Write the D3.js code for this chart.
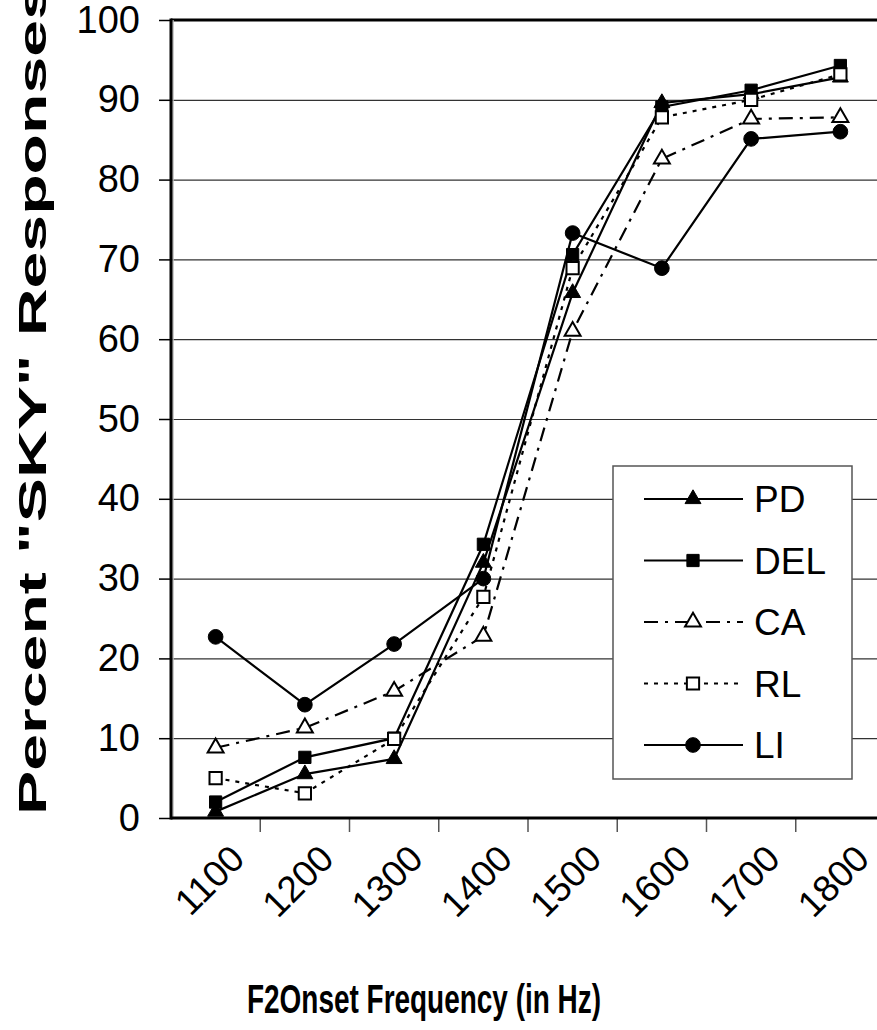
<!DOCTYPE html>
<html>
<head>
<meta charset="utf-8">
<script src="https://cdn.jsdelivr.net/npm/d3@7"></script>
<style>
  body { margin: 0; background: #fff; }
  svg { display: block; font-family: "Liberation Sans", Arial, sans-serif; }
</style>
</head>
<body>
<script>
// category labels on the x axis (Hz)
var freqs = ["1100", "1200", "1300", "1400", "1500", "1600", "1700", "1800"]
var yTicks = [0, 10, 20, 30, 40, 50, 60, 70, 80, 90, 100]

// percent "SKY" responses, per group
var pdVals  = [0.8, 5.5, 7.4, 32.0, 65.8, 89.6, 90.7, 92.8]
var delVals = [2.0, 7.6, 10.0, 34.3, 70.6, 89.1, 91.2, 94.3]
var caVals  = [8.8, 11.3, 15.9, 22.8, 61.0, 82.6, 87.6, 87.8]
var rlVals  = [5.0, 3.1, 9.9, 27.7, 68.9, 87.8, 90.0, 93.2]
var liVals  = [22.7, 14.2, 21.8, 30.0, 73.3, 68.9, 85.1, 86.0]

var seriesNames = ["PD", "DEL", "CA", "RL", "LI"]

// drawing style per series (symbol, filled or open, dash)
var styles = {
  PD:  { sym: d3.symbolTriangle, size: 110, fill: "#000", dash: null },
  DEL: { sym: d3.symbolSquare,   size: 150, fill: "#000", dash: null },
  CA:  { sym: d3.symbolTriangle, size: 110, fill: "#fff", dash: "14,7,3,7" },
  RL:  { sym: d3.symbolSquare,   size: 150, fill: "#fff", dash: "4,6" },
  LI:  { sym: d3.symbolCircle,   size: 170, fill: "#000", dash: null }
}

window.onload = function() {
  var width = 877
  var height = 1030

  var plot = { left: 171, right: 885, top: 20, bottom: 818 }

  var series = [pdVals, delVals, caVals, rlVals, liVals].map(function(vals, i) {
    return { name: seriesNames[i], values: vals }
  })

  var svg = d3.select("body").append("svg")
              .attr("width", width)
              .attr("height", height)

  var xScale = d3.scaleBand()
                 .domain(freqs)
                 .range([plot.left, plot.right])
                 .padding(0)
  var yScale = d3.scaleLinear()
                 .domain([0, 100])
                 .range([plot.bottom, plot.top])

  var cx = function(i) { return xScale(freqs[i]) + xScale.bandwidth() / 2 }

  // horizontal gridlines
  svg.append("g")
     .attr("transform", "translate(" + plot.left + ",0)")
     .call(d3.axisLeft(yScale).tickValues(yTicks.slice(1, -1))
             .tickSize(-(plot.right - plot.left)).tickFormat(""))
     .call(function(g) {
       g.select(".domain").remove()
       g.selectAll("line").attr("stroke", "#333").attr("stroke-width", 1.2)
     })

  // y axis ticks + labels
  svg.append("g")
     .attr("transform", "translate(" + plot.left + ",0)")
     .call(d3.axisLeft(yScale).tickValues(yTicks).tickSize(12).tickPadding(19).tickSizeOuter(0))
     .call(function(g) {
       g.select(".domain").remove()
       g.selectAll("line").attr("stroke", "#000").attr("stroke-width", 1.5)
       g.selectAll("text").attr("font-size", 38).attr("fill", "#000")
        .attr("font-family", "Liberation Sans, Arial, sans-serif")
     })

  // x axis tick marks at category boundaries
  svg.append("g").selectAll("line")
     .data(freqs.slice(1))
     .enter().append("line")
     .attr("x1", function(d) { return xScale(d) })
     .attr("x2", function(d) { return xScale(d) })
     .attr("y1", plot.bottom)
     .attr("y2", plot.bottom + 14)
     .attr("stroke", "#555")
     .attr("stroke-width", 1.5)

  // x axis labels, rotated
  svg.append("g")
     .attr("transform", "translate(0," + plot.bottom + ")")
     .call(d3.axisBottom(xScale).tickSize(0))
     .call(function(g) {
       g.select(".domain").remove()
       g.selectAll("text")
        .attr("font-size", 37)
        .attr("fill", "#000")
        .attr("font-family", "Liberation Sans, Arial, sans-serif")
        .attr("y", 0).attr("dy", 0)
        .attr("text-anchor", "end")
        .attr("transform", "translate(31,43) rotate(-45)")
     })

  // frame: top border, y axis, x axis
  svg.append("line").attr("x1", plot.left).attr("x2", width)
     .attr("y1", plot.top).attr("y2", plot.top)
     .attr("stroke", "#000").attr("stroke-width", 3)
  svg.append("line").attr("x1", plot.left + 2).attr("x2", plot.left + 2)
     .attr("y1", plot.top).attr("y2", plot.bottom)
     .attr("stroke", "#bbb").attr("stroke-width", 1.5)
  svg.append("line").attr("x1", plot.left).attr("x2", plot.left)
     .attr("y1", plot.top - 1.5).attr("y2", plot.bottom + 1.5)
     .attr("stroke", "#000").attr("stroke-width", 3)
  svg.append("line").attr("x1", plot.left).attr("x2", width)
     .attr("y1", plot.bottom).attr("y2", plot.bottom)
     .attr("stroke", "#000").attr("stroke-width", 3)

  var line = d3.line()
               .x(function(d, i) { return cx(i) })
               .y(function(d) { return yScale(d) })

  // lines and markers, in legend order (later on top)
  series.forEach(function(s) {
    var st = styles[s.name]
    var g = svg.append("g").attr("class", "series")
    g.append("path")
     .attr("d", line(s.values))
     .attr("fill", "none")
     .attr("stroke", "#000")
     .attr("stroke-width", 2.2)
     .attr("stroke-dasharray", st.dash)
    g.selectAll("path.mark")
     .data(s.values)
     .enter().append("path")
     .attr("class", "mark")
     .attr("d", d3.symbol().type(st.sym).size(st.size))
     .attr("transform", function(d, i) {
       return "translate(" + cx(i) + "," + yScale(d) + ")"
     })
     .attr("fill", st.fill)
     .attr("stroke", "#000")
     .attr("stroke-width", st.fill == "#fff" ? 2 : 1)
  })

  // legend
  var leg = { x: 613, y: 466, w: 239, h: 313, first: 499, step: 61.5 }
  svg.append("rect")
     .attr("x", leg.x).attr("y", leg.y)
     .attr("width", leg.w).attr("height", leg.h)
     .attr("fill", "#fff")
     .attr("stroke", "#555")
     .attr("stroke-width", 1.5)

  var items = svg.selectAll(".legend")
                 .data(seriesNames)
                 .enter().append("g")
                 .attr("class", "legend")
                 .attr("transform", function(d, i) {
                   return "translate(" + 693 + "," + (leg.first + i * leg.step) + ")"
                 })
  items.append("line")
       .attr("x1", -49).attr("x2", 50)
       .attr("stroke", "#000").attr("stroke-width", 2.2)
       .attr("stroke-dasharray", function(d) { return styles[d].dash })
  items.append("path")
       .attr("d", function(d) { return d3.symbol().type(styles[d].sym).size(styles[d].size)() })
       .attr("fill", function(d) { return styles[d].fill })
       .attr("stroke", "#000")
       .attr("stroke-width", function(d) { return styles[d].fill == "#fff" ? 2 : 1 })
  items.append("text")
       .attr("x", 61)
       .attr("dy", "0.36em")
       .attr("font-size", 37)
       .text(function(d) { return d })

  // axis titles (narrow in the original, so stretched to its lengths)
  svg.append("text")
     .attr("x", 247)
     .attr("y", 1013)
     .attr("font-size", 41)
     .attr("font-weight", "bold")
     .attr("textLength", 354)
     .attr("lengthAdjust", "spacingAndGlyphs")
     .text("F2Onset Frequency (in Hz)")

  svg.append("text")
     .attr("transform", "translate(46,815) rotate(-90)")
     .attr("font-size", 38)
     .attr("font-weight", "bold")
     .attr("textLength", 832)
     .attr("lengthAdjust", "spacingAndGlyphs")
     .text('Percent "SKY" Responses')
}
</script>
</body>
</html>
